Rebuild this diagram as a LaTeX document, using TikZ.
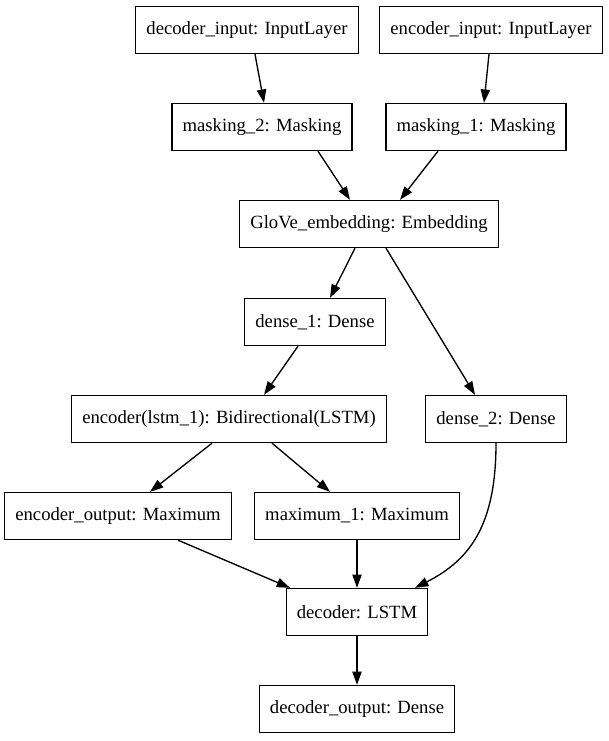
\documentclass[tikz,border=0pt]{standalone}
\usepackage{fontspec}
\setmainfont{Liberation Serif}
\usetikzlibrary{positioning, arrows.meta}

\begin{document}
\begin{tikzpicture}[
  x=0.75pt, y=-0.75pt,
  layer/.style={
    draw=black, line width=1pt, fill=white, minimum height=35.25pt,
    inner xsep=8pt, font=\fontsize{14}{16}\selectfont
  },
  flow/.style={-{Triangle[length=10pt, width=7pt]}, line width=1pt, draw=black},
]
\useasboundingbox (0,0) rectangle (608,741);

% Input branch
\node[layer] at (247, 30) (decin) {decoder\_input: InputLayer};
\node[layer] at (491, 30) (encin) {encoder\_input: InputLayer};
\node[layer] at (262, 127) (mask2) {masking\_2: Masking};
\node[layer] at (476, 127) (mask1) {masking\_1: Masking};
\node[layer] at (369, 224) (glove) {GloVe\_embedding: Embedding};

% Encoder part
\node[layer] at (315, 322) (dense1) {dense\_1: Dense};
\node[layer] at (229, 419) (enc) {encoder(lstm\_1): Bidirectional(LSTM)};
\node[layer] at (496, 419) (dense2) {dense\_2: Dense};
\node[layer] at (118, 516) (encout) {encoder\_output: Maximum};
\node[layer] at (357, 516) (max1) {maximum\_1: Maximum};

% Decoder part
\node[layer] at (357, 612) (dec) {decoder: LSTM};
\node[layer] at (357, 709) (decout) {decoder\_output: Dense};

% Connections
\draw[flow] ([xshift=6pt]decin.south) -- ([xshift=1.5pt]mask2.north);
\draw[flow] ([xshift=-1.5pt]encin.south) -- ([xshift=6pt]mask1.north);
\draw[flow] ([xshift=42pt]mask2.south) -- ([xshift=-14.25pt]glove.north);
\draw[flow] ([xshift=-28.5pt]mask1.south) -- ([xshift=23.25pt]glove.north);
\draw[flow] ([xshift=-10.5pt]glove.south) -- ([xshift=11.25pt]dense1.north);
\draw[flow] ([xshift=12.75pt]glove.south) -- ([xshift=-15.75pt]dense2.north);
\draw[flow] ([xshift=-12.75pt]dense1.south) -- ([xshift=26.25pt]enc.north);
\draw[flow] ([xshift=-12.75pt]enc.south) -- ([xshift=24pt]encout.north);
\draw[flow] ([xshift=32.25pt]enc.south) -- ([xshift=-20.25pt]max1.north);
\draw[flow] ([xshift=45pt]encout.south) -- ([xshift=-50.25pt]dec.north);
\draw[flow] (max1.south) -- (dec.north);
\draw[flow] (dense2.south) .. controls (496, 525) and (470, 560) .. ([xshift=43.5pt]dec.north);
\draw[flow] (dec.south) -- (decout.north);

\end{tikzpicture}
\end{document}
